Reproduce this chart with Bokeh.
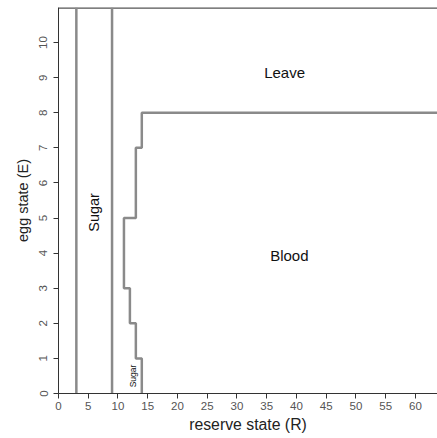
from bokeh.plotting import figure
from bokeh.models import Range1d, FixedTicker
from bokeh.core.properties import value
from bokeh.embed import file_html
from bokeh.resources import INLINE

# Boundary lines (reserve state R, egg state E)
sugar_left_R = [3, 3]
sugar_left_E = [0, 11]
sugar_right_R = [9, 9]
sugar_right_E = [0, 11]
top_R = [0, 64]
top_E = [11, 11]
blood_R = [14, 14, 13, 13, 12, 12, 11, 11, 13, 13, 14, 14, 64]
blood_E = [0, 1, 1, 2, 2, 3, 3, 5, 5, 7, 7, 8, 8]

label_text = ["Leave", "Blood"]
label_R = [38.0, 38.8]
label_E = [9.15, 3.93]

x_ticks = list(range(0, 65, 5))
y_ticks = list(range(0, 11))

FONT = "Liberation Sans"
GRAY = "#8a8a8a"

p = figure(width=437, height=438, output_backend="svg", toolbar_location=None,
           x_range=Range1d(0, 63.7), y_range=Range1d(0, 11.0),
           min_border_left=58, min_border_right=0, min_border_top=7, min_border_bottom=45)
p.outline_line_color = None
p.xgrid.visible = False
p.ygrid.visible = False
p.background_fill_color = "white"
p.border_fill_color = "white"

for ax in (p.xaxis[0], p.yaxis[0]):
    ax.axis_line_color = "#333333"
    ax.major_tick_line_color = "#333333"
    ax.minor_tick_line_color = None
    ax.major_tick_out = 5
    ax.major_tick_in = 0
    ax.major_label_text_font = FONT
    ax.major_label_text_font_size = "11.5px"
    ax.major_label_text_color = "#555555"
    ax.axis_label_text_font = FONT
    ax.axis_label_text_font_style = "normal"
    ax.axis_label_text_color = "#222222"

p.xaxis.axis_label_text_font_size = "15.8px"
p.yaxis.axis_label_text_font_size = "14.5px"
p.xaxis.ticker = FixedTicker(ticks=x_ticks)
p.yaxis.ticker = FixedTicker(ticks=y_ticks)
p.xaxis.axis_label = "reserve state (R)"
p.yaxis.axis_label = "egg state (E)"
p.xaxis.major_label_standoff = 3
p.xaxis.axis_label_standoff = 3
p.yaxis.major_label_orientation = "vertical"
p.yaxis.major_label_standoff = 6
p.yaxis.axis_label_standoff = 6

p.line(top_R, top_E, line_color="#555555", line_width=2.5)
p.line(sugar_left_R, sugar_left_E, line_color=GRAY, line_width=2.5)
p.line(sugar_right_R, sugar_right_E, line_color=GRAY, line_width=2.5)
p.line(blood_R, blood_E, line_color=GRAY, line_width=2.5)

p.text(x=label_R, y=label_E, text=label_text, text_font=value(FONT),
       text_font_size="15px", text_align="center", text_baseline="middle",
       text_color="#111111")
p.text(x=[5.9], y=[5.16], text=["Sugar"], angle=1.5708, text_font=value(FONT),
       text_font_size="14.5px", text_align="center", text_baseline="middle",
       text_color="#111111")
p.text(x=[12.6], y=[0.5], text=["Sugar"], angle=1.5708, text_font=value(FONT),
       text_font_size="8.5px", text_align="center", text_baseline="middle",
       text_color="#111111")

open("out.html", "w").write(file_html(p, INLINE))
